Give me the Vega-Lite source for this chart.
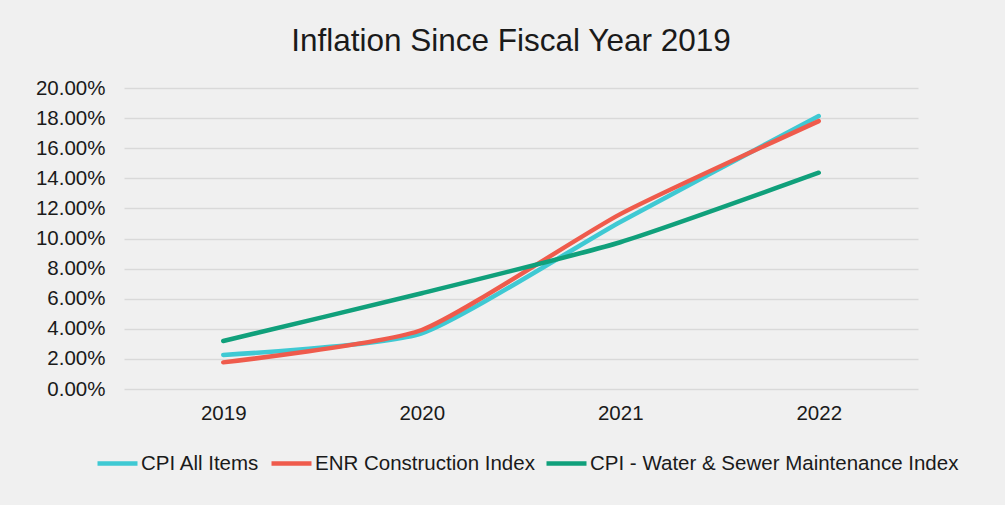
{
  "$schema": "https://vega.github.io/schema/vega-lite/v6.json",
  "width": 794,
  "height": 301,
  "autosize": "none",
  "padding": {"left": 124, "top": 88, "right": 87, "bottom": 116},
  "background": "#f0f0f0",
  "title": {
    "text": "Inflation Since Fiscal Year 2019",
    "font": "Liberation Sans",
    "fontSize": 31.5,
    "fontWeight": "normal",
    "color": "#1a1a1a",
    "anchor": "middle",
    "dx": -10,
    "offset": 21
  },
  "data": {
    "values": [
      {"year": "2019", "series": "CPI All Items", "value": 0.0226},
      {"year": "2020", "series": "CPI All Items", "value": 0.0370},
      {"year": "2021", "series": "CPI All Items", "value": 0.1110},
      {"year": "2022", "series": "CPI All Items", "value": 0.1814},
      {"year": "2019", "series": "ENR Construction Index", "value": 0.0177},
      {"year": "2020", "series": "ENR Construction Index", "value": 0.0392},
      {"year": "2021", "series": "ENR Construction Index", "value": 0.1162},
      {"year": "2022", "series": "ENR Construction Index", "value": 0.1780},
      {"year": "2019", "series": "CPI - Water & Sewer Maintenance Index", "value": 0.0319},
      {"year": "2020", "series": "CPI - Water & Sewer Maintenance Index", "value": 0.0636},
      {"year": "2021", "series": "CPI - Water & Sewer Maintenance Index", "value": 0.0975},
      {"year": "2022", "series": "CPI - Water & Sewer Maintenance Index", "value": 0.1437}
    ]
  },
  "mark": {"type": "line", "strokeWidth": 4.5, "interpolate": "cardinal", "tension": 0.45, "strokeCap": "round"},
  "encoding": {
    "x": {
      "field": "year",
      "type": "ordinal",
      "scale": {"type": "point", "padding": 0.5},
      "axis": {
        "title": null,
        "labelAngle": 0,
        "domain": false,
        "ticks": false,
        "grid": false,
        "labelFont": "Liberation Sans",
        "labelFontSize": 20.5,
        "labelColor": "#1a1a1a",
        "labelPadding": 14
      }
    },
    "y": {
      "field": "value",
      "type": "quantitative",
      "scale": {"domain": [0, 0.2], "nice": false},
      "axis": {
        "title": null,
        "values": [0, 0.02, 0.04, 0.06, 0.08, 0.1, 0.12, 0.14, 0.16, 0.18, 0.2],
        "format": ".2%",
        "domain": false,
        "ticks": false,
        "gridColor": "#d9d9d9",
        "gridWidth": 1.3,
        "labelFont": "Liberation Sans",
        "labelFontSize": 20.5,
        "labelColor": "#1a1a1a",
        "labelPadding": 19
      }
    },
    "color": {
      "field": "series",
      "type": "nominal",
      "sort": ["CPI All Items", "ENR Construction Index", "CPI - Water & Sewer Maintenance Index"],
      "scale": {
        "domain": ["CPI All Items", "ENR Construction Index", "CPI - Water & Sewer Maintenance Index"],
        "range": ["#3fc9d3", "#ef5b4c", "#10a07b"]
      },
      "legend": {
        "title": null,
        "orient": "none",
        "direction": "horizontal",
        "legendX": -29,
        "legendY": 353,
        "symbolType": "stroke",
        "symbolSize": 1600,
        "symbolStrokeWidth": 4.5,
        "labelFont": "Liberation Sans",
        "labelFontSize": 20.5,
        "labelColor": "#1a1a1a",
        "labelOffset": 1,
        "columnPadding": 2,
        "labelLimit": 600
      }
    }
  },
  "config": {
    "view": {"stroke": null}
  }
}
